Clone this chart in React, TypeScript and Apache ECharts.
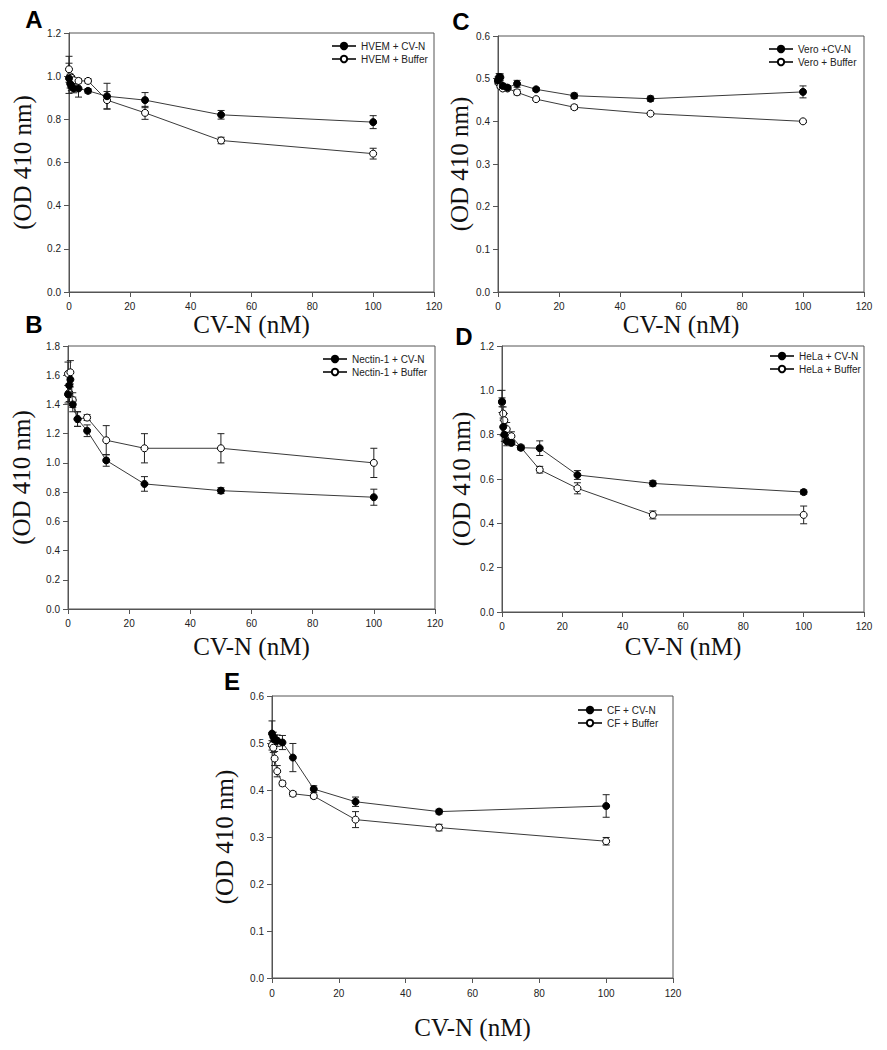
import React, { useEffect, useRef } from "react";
import * as echarts from "echarts";

// Concentrations of CV-N (nM), shared by all panels
const conc = [0, 0.39, 0.78, 1.56, 3.125, 6.25, 12.5, 25, 50, 100];
const xTicks = { min: 0, max: 120, interval: 20 };

// Panel A: HVEM
const aCvn = [0.99, 0.965, 0.953, 0.943, 0.943, 0.932, 0.907, 0.889, 0.821, 0.787];
const aCvnErr = [0.07, 0.02, 0.02, 0.02, 0.04, 0.01, 0.06, 0.035, 0.02, 0.03];
const aBuf = [1.032, 0.999, 0.993, 0.981, 0.978, 0.978, 0.889, 0.83, 0.702, 0.641];
const aBufErr = [0.06, 0.01, 0.01, 0.01, 0.01, 0.01, 0.04, 0.03, 0.015, 0.025];

// Panel B: Nectin-1
const bCvn = [1.47, 1.53, 1.57, 1.4, 1.3, 1.22, 1.017, 0.856, 0.81, 0.765];
const bCvnErr = [0.06, 0.08, 0.05, 0.05, 0.05, 0.04, 0.04, 0.05, 0.02, 0.055];
const bBuf = [1.61, 1.48, 1.62, 1.43, 1.3, 1.31, 1.155, 1.1, 1.1, 1.0];
const bBufErr = [0.08, 0.06, 0.08, 0.05, 0.05, 0.02, 0.1, 0.1, 0.1, 0.1];

// Panel C: Vero
const cCvn = [0.496, 0.504, 0.503, 0.483, 0.479, 0.488, 0.475, 0.46, 0.453, 0.469];
const cCvnErr = [0.008, 0.008, 0.008, 0.006, 0.005, 0.008, 0.004, 0.006, 0.006, 0.014];
const cBuf = [0.494, 0.489, 0.482, 0.477, 0.477, 0.468, 0.452, 0.433, 0.418, 0.4];
const cBufErr = [0.006, 0.004, 0.004, 0.003, 0.003, 0.006, 0.003, 0.005, 0.003, 0.003];

// Panel D: HeLa
const dCvn = [0.95, 0.835, 0.8, 0.77, 0.763, 0.741, 0.739, 0.618, 0.58, 0.541];
const dCvnErr = [0.05, 0.04, 0.03, 0.02, 0.01, 0.01, 0.033, 0.02, 0.012, 0.01];
const dBuf = [0.946, 0.895, 0.865, 0.825, 0.793, 0.743, 0.642, 0.558, 0.438, 0.438];
const dBufErr = [0.02, 0.03, 0.03, 0.03, 0.02, 0.01, 0.015, 0.025, 0.018, 0.04];

// Panel E: CF
const eCvn = [0.52, 0.513, 0.507, 0.505, 0.501, 0.469, 0.402, 0.375, 0.354, 0.366];
const eCvnErr = [0.027, 0.01, 0.01, 0.012, 0.015, 0.03, 0.007, 0.01, 0.005, 0.024];
const eBuf = [0.495, 0.49, 0.467, 0.44, 0.414, 0.392, 0.387, 0.337, 0.32, 0.291];
const eBufErr = [0.01, 0.01, 0.015, 0.012, 0.005, 0.005, 0.004, 0.017, 0.007, 0.008];

type Panel = {
  letter: string;
  cvnName: string;
  bufName: string;
  cvn: number[];
  cvnErr: number[];
  buf: number[];
  bufErr: number[];
  yMax: number;
  yInterval: number;
  grid: { left: number; top: number; width: number; height: number };
  legend: { left: number; top: number };
  letterPos: [number, number];
  yNameGap: number;
  xNameGap: number;
  xLabelMargin: number;
};

const panels: Panel[] = [
  {
    letter: "A", cvnName: "HVEM + CV-N", bufName: "HVEM + Buffer",
    cvn: aCvn, cvnErr: aCvnErr, buf: aBuf, bufErr: aBufErr,
    yMax: 1.2, yInterval: 0.2,
    grid: { left: 69, top: 33, width: 365, height: 259 },
    legend: { left: 331, top: 41 }, letterPos: [34, 19],
    yNameGap: 34, xNameGap: 20, xLabelMargin: 9,
  },
  {
    letter: "C", cvnName: "Vero +CV-N", bufName: "Vero + Buffer",
    cvn: cCvn, cvnErr: cCvnErr, buf: cBuf, bufErr: cBufErr,
    yMax: 0.6, yInterval: 0.1,
    grid: { left: 498, top: 36, width: 366, height: 256 },
    legend: { left: 768, top: 44 }, letterPos: [461, 21],
    yNameGap: 23, xNameGap: 20, xLabelMargin: 9,
  },
  {
    letter: "B", cvnName: "Nectin-1 + CV-N", bufName: "Nectin-1 + Buffer",
    cvn: bCvn, cvnErr: bCvnErr, buf: bBuf, bufErr: bBufErr,
    yMax: 1.8, yInterval: 0.2,
    grid: { left: 68, top: 346, width: 367, height: 263 },
    legend: { left: 322, top: 354 }, letterPos: [34, 324],
    yNameGap: 34, xNameGap: 25, xLabelMargin: 9,
  },
  {
    letter: "D", cvnName: "HeLa + CV-N", bufName: "HeLa + Buffer",
    cvn: dCvn, cvnErr: dCvnErr, buf: dBuf, bufErr: dBufErr,
    yMax: 1.2, yInterval: 0.2,
    grid: { left: 502, top: 346, width: 362, height: 266 },
    legend: { left: 769, top: 351 }, letterPos: [464, 336],
    yNameGap: 28, xNameGap: 22, xLabelMargin: 9,
  },
  {
    letter: "E", cvnName: "CF + CV-N", bufName: "CF + Buffer",
    cvn: eCvn, cvnErr: eCvnErr, buf: eBuf, bufErr: eBufErr,
    yMax: 0.6, yInterval: 0.1,
    grid: { left: 272, top: 696, width: 401, height: 282 },
    legend: { left: 577, top: 705 }, letterPos: [232, 681],
    yNameGap: 35, xNameGap: 37, xLabelMargin: 10,
  },
];

const SANS = "'Liberation Sans', Arial, Helvetica, sans-serif";
const SERIF = "'Liberation Serif', 'Times New Roman', serif";
const FRAME = "#555";
const LINE = "#3a3a3a";

function errorBarRender(params: any, api: any) {
  const x = api.value(0);
  const lo = api.value(1);
  const hi = api.value(2);
  const p1 = api.coord([x, lo]);
  const p2 = api.coord([x, hi]);
  const w = 3.5;
  const style = { stroke: "#222", lineWidth: 1 };
  return {
    type: "group",
    children: [
      { type: "line", shape: { x1: p1[0], y1: p1[1], x2: p2[0], y2: p2[1] }, style },
      { type: "line", shape: { x1: p1[0] - w, y1: p1[1], x2: p1[0] + w, y2: p1[1] }, style },
      { type: "line", shape: { x1: p2[0] - w, y1: p2[1], x2: p2[0] + w, y2: p2[1] }, style },
    ],
  };
}

function buildOption() {
  const grid: any[] = [];
  const xAxis: any[] = [];
  const yAxis: any[] = [];
  const legend: any[] = [];
  const series: any[] = [];
  const graphic: any[] = [];

  panels.forEach((p, i) => {
    grid.push({
      ...p.grid,
      show: true,
      borderColor: FRAME,
      borderWidth: 1,
      backgroundColor: "transparent",
    });
    xAxis.push({
      type: "value",
      gridIndex: i,
      min: xTicks.min,
      max: xTicks.max,
      interval: xTicks.interval,
      name: "CV-N (nM)",
      nameLocation: "middle",
      nameGap: p.xNameGap,
      nameTextStyle: { fontFamily: SERIF, fontSize: 25, color: "#111" },
      axisLine: { show: true, lineStyle: { color: FRAME, width: 1 } },
      axisTick: { show: true, length: 5, lineStyle: { color: FRAME } },
      axisLabel: {
        fontFamily: SANS, fontSize: 10, color: "#222", margin: p.xLabelMargin,
        formatter: (v: number) => String(v),
      },
      splitLine: { show: false },
    });
    yAxis.push({
      type: "value",
      gridIndex: i,
      min: 0,
      max: p.yMax,
      interval: p.yInterval,
      name: "(OD 410 nm)",
      nameLocation: "middle",
      nameRotate: 90,
      nameGap: p.yNameGap,
      nameTextStyle: { fontFamily: SERIF, fontSize: 25, color: "#111" },
      axisLine: { show: true, lineStyle: { color: FRAME, width: 1 } },
      axisTick: { show: true, length: 5, lineStyle: { color: FRAME } },
      axisLabel: {
        fontFamily: SANS, fontSize: 10, color: "#222", margin: 8,
        formatter: (v: number) => v.toFixed(1),
      },
      splitLine: { show: false },
    });
    legend.push({
      orient: "vertical",
      left: p.legend.left,
      top: p.legend.top,
      padding: 0,
      itemWidth: 24,
      itemHeight: 8,
      itemGap: 3,
      selectedMode: false,
      textStyle: { fontFamily: SANS, fontSize: 10, color: "#222" },
      data: [p.cvnName, p.bufName],
    });

    const cvnBars = conc.map((x, k) => [x, p.cvn[k] - p.cvnErr[k], p.cvn[k] + p.cvnErr[k]]);
    const bufBars = conc.map((x, k) => [x, p.buf[k] - p.bufErr[k], p.buf[k] + p.bufErr[k]]);

    series.push({
      type: "custom",
      name: p.cvnName + " err",
      xAxisIndex: i,
      yAxisIndex: i,
      renderItem: errorBarRender,
      encode: { x: 0, y: [1, 2] },
      data: cvnBars,
      z: 1,
      silent: true,
    });
    series.push({
      type: "custom",
      name: p.bufName + " err",
      xAxisIndex: i,
      yAxisIndex: i,
      renderItem: errorBarRender,
      encode: { x: 0, y: [1, 2] },
      data: bufBars,
      z: 1,
      silent: true,
    });
    series.push({
      type: "line",
      name: p.cvnName,
      xAxisIndex: i,
      yAxisIndex: i,
      data: conc.map((x, k) => [x, p.cvn[k]]),
      symbol: "circle",
      symbolSize: 7,
      lineStyle: { color: LINE, width: 1 },
      itemStyle: { color: "#000", borderColor: "#000", borderWidth: 1 },
      z: 3,
      silent: true,
    });
    series.push({
      type: "line",
      name: p.bufName,
      xAxisIndex: i,
      yAxisIndex: i,
      data: conc.map((x, k) => [x, p.buf[k]]),
      symbol: "circle",
      symbolSize: 7,
      lineStyle: { color: LINE, width: 1 },
      itemStyle: { color: "#fff", borderColor: "#000", borderWidth: 1 },
      z: 2,
      silent: true,
    });

    graphic.push({
      type: "text",
      x: p.letterPos[0],
      y: p.letterPos[1],
      style: {
        text: p.letter,
        fontFamily: SANS,
        fontWeight: "bold",
        fontSize: 24,
        fill: "#000",
        textAlign: "center",
        textVerticalAlign: "middle",
      },
    });
  });

  return {
    animation: false,
    backgroundColor: "#fff",
    grid,
    xAxis,
    yAxis,
    legend,
    series,
    graphic,
  };
}

export default function App() {
  const ref = useRef<HTMLDivElement>(null);
  useEffect(() => {
    if (!ref.current) return;
    const chart = echarts.init(ref.current, undefined, { renderer: "svg" });
    chart.setOption(buildOption() as any);
    return () => {
      chart.dispose();
    };
  }, []);
  return (
    <div
      ref={ref}
      style={{ position: "fixed", left: 0, top: 0, width: 887, height: 1050, background: "#fff" }}
    />
  );
}
